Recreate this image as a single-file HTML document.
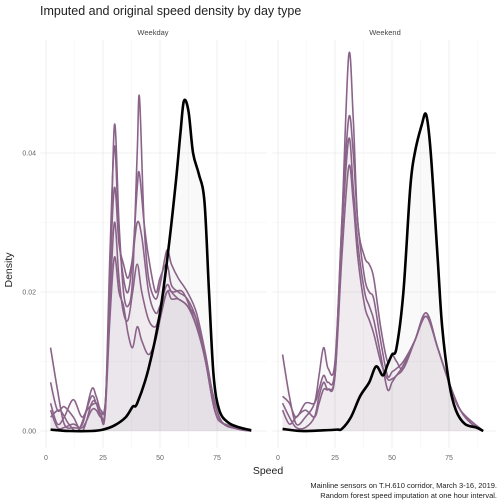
<!DOCTYPE html>
<html><head><meta charset="utf-8">
<style>
body{margin:0;background:#fff;}
svg{display:block;font-family:"Liberation Sans",sans-serif;}
</style></head>
<body>
<svg id="chart" width="504" height="504" viewBox="0 0 504 504">
<text x="40" y="15" font-size="12.5" fill="#222">Imputed and original speed density by day type</text>
<text x="153" y="35" font-size="7.5" fill="#444" text-anchor="middle">Weekday</text>
<text x="385" y="35" font-size="7.5" fill="#444" text-anchor="middle">Weekend</text>
<text x="268" y="474" font-size="10.5" fill="#222" text-anchor="middle">Speed</text>
<text x="12" y="270" font-size="10.5" fill="#222" text-anchor="middle" transform="rotate(-90 12 270)">Density</text>
<text x="497" y="488" font-size="7.5" fill="#222" text-anchor="end">Mainline sensors on T.H.610 corridor, March 3-16, 2019.</text>
<text x="497" y="498" font-size="7.5" fill="#222" text-anchor="end">Random forest speed imputation at one hour interval.</text>
<g id="grid"></g>
<g id="marks"></g>
</svg>
<script>
const xTicks=[0,25,50,75];
const yTicks=[0,0.02,0.04];
const yTickLabels=["0.00","0.02","0.04"];
const weekdayObserved=[[2,0.0002],[10,0],[20,0],[25,0.0002],[30,0.0008],[35,0.002],[38,0.0035],[40,0.004],[45,0.009],[50,0.017],[54,0.027],[57,0.036],[59,0.043],[60.5,0.0475],[62.5,0.046],[64.5,0.04],[67,0.037],[69.5,0.033],[71.5,0.02],[73.5,0.008],[76,0.003],[80,0.0012],[85,0.0005],[90,0.0001]];
const weekdayImputed=[
[[2,0.012],[5,0.006],[8,0.001],[12,0.0005],[16,0.001],[20,0.006],[22,0.005],[24,0.003],[26,0.004],[28,0.02],[30,0.044],[32,0.03],[34,0.02],[36,0.018],[38,0.022],[40,0.04],[41,0.048],[43,0.03],[45,0.022],[48,0.019],[50,0.021],[53,0.026],[55,0.024],[58,0.022],[62,0.02],[66,0.017],[70,0.011],[74,0.004],[78,0.001],[85,0.0003],[90,0]],
[[2,0.007],[5,0.003],[8,0.0035],[12,0.002],[16,0],[20,0.004],[22,0.004],[24,0.002],[26,0.003],[28,0.025],[30,0.041],[32,0.028],[34,0.022],[36,0.02],[38,0.025],[40,0.035],[41,0.037],[43,0.03],[45,0.025],[48,0.02],[50,0.022],[53,0.024],[55,0.021],[58,0.02],[62,0.019],[66,0.016],[70,0.01],[74,0.003],[78,0.001],[85,0.0002],[90,0]],
[[2,0.004],[5,0.001],[8,0.002],[12,0.0045],[16,0.002],[20,0.005],[22,0.004],[24,0.0025],[26,0.003],[28,0.022],[30,0.035],[32,0.027],[34,0.024],[36,0.022],[38,0.025],[40,0.03],[42,0.028],[45,0.02],[48,0.017],[50,0.018],[53,0.021],[55,0.02],[58,0.019],[62,0.018],[66,0.015],[70,0.01],[74,0.003],[78,0.001],[90,0]],
[[2,0.003],[5,0.0005],[8,0.0005],[12,0.001],[16,0.0005],[20,0.003],[22,0.003],[24,0.002],[26,0.003],[28,0.016],[30,0.025],[32,0.02],[34,0.018],[36,0.014],[38,0.012],[40,0.015],[42,0.013],[45,0.011],[48,0.013],[50,0.016],[53,0.02],[55,0.019],[58,0.019],[62,0.018],[66,0.016],[70,0.01],[74,0.003],[78,0.001],[90,0]],
[[2,0.002],[6,0.003],[10,0.001],[14,0],[18,0.003],[22,0.004],[24,0.003],[26,0.004],[28,0.018],[30,0.03],[32,0.022],[34,0.017],[36,0.016],[38,0.02],[40,0.024],[42,0.02],[45,0.016],[48,0.015],[50,0.017],[53,0.02],[56,0.02],[60,0.02],[64,0.017],[68,0.013],[72,0.007],[76,0.002],[80,0.0008],[90,0]]
];
const weekendObserved=[[2,0.0003],[10,0],[20,0.0001],[26,0.0002],[28,0.0003],[32,0.002],[36,0.005],[40,0.007],[43,0.0093],[46,0.008],[48,0.0095],[50,0.011],[52,0.012],[55,0.02],[58,0.035],[60,0.04],[63,0.044],[65,0.0455],[67,0.04],[70,0.025],[72,0.015],[75,0.007],[78,0.003],[82,0.001],[87,0.0005],[90,0]];
const weekendImputed=[
[[2,0.011],[5,0.005],[8,0.001],[12,0.002],[16,0.004],[18,0.008],[20,0.012],[22,0.009],[25,0.01],[28,0.03],[31,0.054],[33,0.045],[35,0.03],[38,0.025],[40,0.024],[42,0.022],[45,0.015],[48,0.01],[50,0.011],[52,0.01],[55,0.009],[60,0.013],[65,0.017],[70,0.012],[75,0.007],[80,0.003],[85,0.001],[90,0]],
[[2,0.005],[5,0.004],[8,0.002],[12,0.004],[16,0.004],[18,0.006],[20,0.008],[22,0.007],[25,0.009],[28,0.03],[31,0.045],[33,0.04],[35,0.03],[38,0.022],[40,0.02],[42,0.019],[45,0.013],[48,0.008],[50,0.0085],[52,0.009],[55,0.01],[60,0.013],[65,0.017],[70,0.012],[75,0.007],[80,0.003],[85,0.001],[90,0]],
[[2,0.004],[5,0.002],[8,0.0005],[12,0.0005],[16,0.002],[18,0.005],[20,0.007],[22,0.006],[25,0.008],[28,0.028],[31,0.042],[33,0.035],[35,0.027],[38,0.02],[40,0.018],[42,0.016],[45,0.011],[48,0.006],[50,0.007],[52,0.008],[55,0.009],[60,0.013],[65,0.0165],[70,0.012],[75,0.007],[80,0.003],[90,0]],
[[2,0.003],[5,0.001],[8,0.002],[12,0.003],[16,0.002],[18,0.004],[20,0.006],[22,0.006],[25,0.008],[28,0.025],[31,0.038],[33,0.033],[35,0.025],[38,0.018],[40,0.016],[42,0.014],[45,0.01],[48,0.0075],[50,0.0075],[52,0.008],[55,0.0095],[60,0.013],[65,0.0165],[70,0.012],[75,0.007],[80,0.003],[90,0]]
];
const panels=[{x0:46,obs:weekdayObserved,imp:weekdayImputed,left:40,right:267,name:'weekday'},{x0:278,obs:weekendObserved,imp:weekendImputed,left:272,right:496,name:'weekend'}];
const ns='http://www.w3.org/2000/svg';
const grid=document.getElementById('grid'), marks=document.getElementById('marks');
const yScale=v=>431-v*6950;
function mk(tag,attrs,parent){const e=document.createElementNS(ns,tag);for(const k in attrs)e.setAttribute(k,attrs[k]);parent.appendChild(e);return e;}
function pathFor(pts,xs){
  const p=pts.map(d=>[xs(d[0]),yScale(d[1])]);
  let s='M'+p[0][0]+','+p[0][1];
  for(let i=0;i<p.length-1;i++){
    const a=p[Math.max(0,i-1)],b=p[i],c=p[i+1],d=p[Math.min(p.length-1,i+2)];
    const c1=[b[0]+(c[0]-a[0])/6,b[1]+(c[1]-a[1])/6],c2=[c[0]-(d[0]-b[0])/6,c[1]-(d[1]-b[1])/6];
    s+=' C'+c1[0]+','+c1[1]+' '+c2[0]+','+c2[1]+' '+c[0]+','+c[1];
  }
  return {s,p};
}
panels.forEach(pn=>{
  const xs=v=>pn.x0+v*2.28;
  for(let v=12.5;v<=87.5;v+=25){const l=mk('line',{x1:xs(v),x2:xs(v),y1:40,y2:448,stroke:'#f3f3f3','stroke-width':0.5},grid);}
  [0.01,0.03].forEach(v=>{const l=mk('line',{x1:pn.left,x2:pn.right,y1:yScale(v),y2:yScale(v),stroke:'#f3f3f3','stroke-width':0.5},grid);});
  xTicks.forEach(v=>{const l=mk('line',{x1:xs(v),x2:xs(v),y1:40,y2:448,stroke:'#ebebeb','stroke-width':0.8},grid);
    const t=mk('text',{x:xs(v),y:460,'font-size':7,fill:'#666','text-anchor':'middle'},grid);t.textContent=v;});
  yTicks.forEach(v=>{const l=mk('line',{x1:pn.left,x2:pn.right,y1:yScale(v),y2:yScale(v),stroke:'#ebebeb','stroke-width':0.8},grid);});
  const fills=[...pn.imp.map(c=>[c,'rgba(120,80,115,0.03)']),[pn.obs,'rgba(0,0,0,0.025)']];
  fills.forEach(([c,col])=>{const r=pathFor(c,xs);const last=r.p[r.p.length-1];
    const f=mk('path',{d:r.s+' L'+last[0]+','+yScale(0)+' L'+r.p[0][0]+','+yScale(0)+'Z',fill:col,stroke:'none'},marks);});
  pn.imp.forEach(c=>{const l=mk('path',{d:pathFor(c,xs).s,fill:'none',stroke:'#8a6389','stroke-width':1.6},marks);});
  const o=mk('path',{d:pathFor(pn.obs,xs).s,fill:'none',stroke:'#000','stroke-width':2.6},marks);
});
yTicks.forEach((v,i)=>{const t=mk('text',{x:36,y:yScale(v)+2.5,'font-size':7,fill:'#666','text-anchor':'end'},grid);t.textContent=yTickLabels[i];});
</script>
</body></html>
